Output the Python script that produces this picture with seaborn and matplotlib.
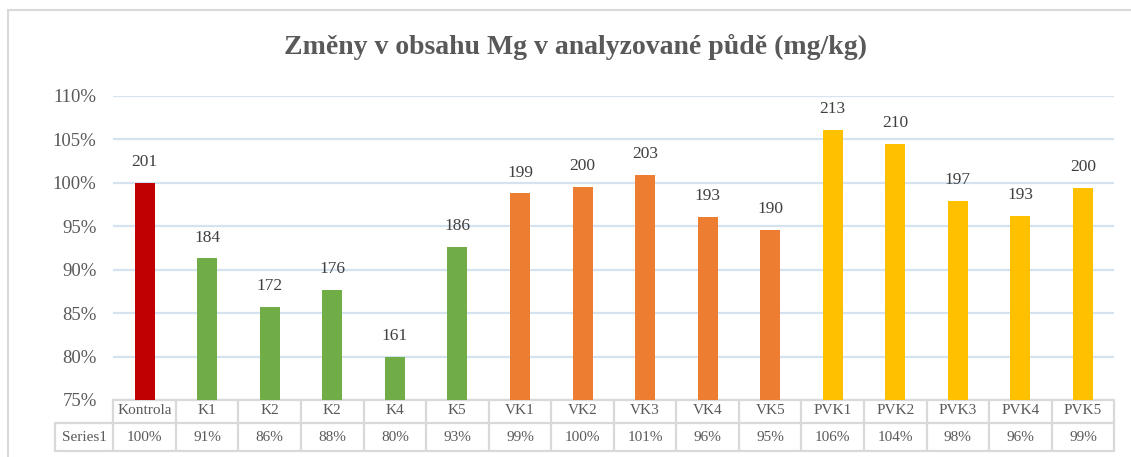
import matplotlib
matplotlib.use("Agg")
import matplotlib.pyplot as plt
import matplotlib.transforms as mtransforms
from matplotlib.patches import Rectangle
import seaborn as sns
import pandas as pd

categories = ["Kontrola", "K1", "K2", "K2 ", "K4", "K5", "VK1", "VK2", "VK3", "VK4", "VK5",
              "PVK1", "PVK2", "PVK3", "PVK4", "PVK5"]
table_labels = ["Kontrola", "K1", "K2", "K2", "K4", "K5", "VK1", "VK2", "VK3", "VK4", "VK5",
                "PVK1", "PVK2", "PVK3", "PVK4", "PVK5"]
groups = ["Kontrola"] + ["K"] * 5 + ["VK"] * 5 + ["PVK"] * 5
percent = [100.0, 91.3, 85.7, 87.7, 80.0, 92.6, 98.8, 99.5, 100.9, 96.1, 94.6,
           106.1, 104.5, 97.9, 96.2, 99.4]
mg_values = [201, 184, 172, 176, 161, 186, 199, 200, 203, 193, 190, 213, 210, 197, 193, 200]
table_pct = ["100%", "91%", "86%", "88%", "80%", "93%", "99%", "100%", "101%", "96%", "95%",
             "106%", "104%", "98%", "96%", "99%"]
series_name = "Series1"
title = "Změny v obsahu Mg v analyzované půdě (mg/kg)"
palette = {"Kontrola": "#C00000", "K": "#70AD47", "VK": "#ED7D31", "PVK": "#FFC000"}

df = pd.DataFrame({"cat": categories, "group": groups, "pct": percent})

sns.set_theme(style="white")
plt.rcParams["font.family"] = ["Liberation Serif", "DejaVu Serif"]

W, H = 1131, 457
fig = plt.figure(figsize=(W / 100, H / 100), dpi=100)
ax_left, ax_right, ax_top, ax_bot = 113.3, 1114.3, 95.7, 400.0
ax = fig.add_axes([ax_left / W, 1 - ax_bot / H, (ax_right - ax_left) / W, (ax_bot - ax_top) / H])

sns.barplot(data=df, x="cat", y="pct", hue="group", palette=palette, dodge=False,
            width=0.32, legend=False, ax=ax, saturation=1, order=categories,
            linewidth=0, edgecolor="none")
for p in ax.patches:
    p.set_zorder(3)

ax.set_ylim(75, 110)
ax.set_xlim(-0.5, len(categories) - 0.5)
ticks = [75, 80, 85, 90, 95, 100, 105, 110]
ax.set_yticks(ticks)
ax.set_yticklabels([f"{t}%" for t in ticks], fontsize=13.5, color="#595959")
ax.tick_params(axis="y", length=0, pad=12)
ax.set_xticks([])
ax.set_xlabel("")
ax.set_ylabel("")
for s in ax.spines.values():
    s.set_visible(False)
ax.grid(axis="y", color="#D5E3F1", linewidth=1.6)
ax.set_axisbelow(True)

for i, (p, v) in enumerate(zip(percent, mg_values)):
    ax.annotate(str(v), (i, p), xytext=(0, 9), textcoords="offset points",
                ha="center", va="bottom", fontsize=12.5, color="#404040")

# data table
tr = mtransforms.blended_transform_factory(ax.transData, ax.transAxes)
axh = ax_bot - ax_top
def ya(ypx):
    return (ax_bot - ypx) / axh
cw = (ax_right - ax_left) / len(categories)
x_series_left = -0.5 + (55 - ax_left) / cw
y_top, y_mid, y_bot = ya(399.5), ya(423.3), ya(450.7)
lc = "#D9D9D9"
lw = 1.6
n = len(categories)
kw = dict(transform=tr, color=lc, lw=lw, clip_on=False, zorder=1.5)
ax.plot([-0.5, n - 0.5], [y_top, y_top], **kw)
ax.plot([x_series_left, n - 0.5], [y_mid, y_mid], **kw)
ax.plot([x_series_left, n - 0.5], [y_bot, y_bot], **kw)
for k in range(n + 1):
    ax.plot([k - 0.5, k - 0.5], [y_top, y_bot], **kw)
ax.plot([x_series_left, x_series_left], [y_mid, y_bot], **kw)

for i in range(n):
    ax.text(i, ya(411), table_labels[i], transform=tr, ha="center", va="center",
            fontsize=11, color="#595959")
    ax.text(i, ya(437.5), table_pct[i], transform=tr, ha="center", va="center",
            fontsize=11, color="#595959")
ax.text((x_series_left - 0.5) / 2, ya(437.5), series_name, transform=tr, ha="center",
        va="center", fontsize=11, color="#595959")

fig.text(575 / W, 1 - 47 / H, title, ha="center", va="center", fontsize=20,
         fontweight="bold", color="#595959")

fig.patches.append(Rectangle((8 / W, -0.05), 1.1, 1 - 10 / H + 0.05, transform=fig.transFigure,
                             fill=False, edgecolor="#D9D9D9", linewidth=1.5))

fig.savefig("out.png", dpi=100)
